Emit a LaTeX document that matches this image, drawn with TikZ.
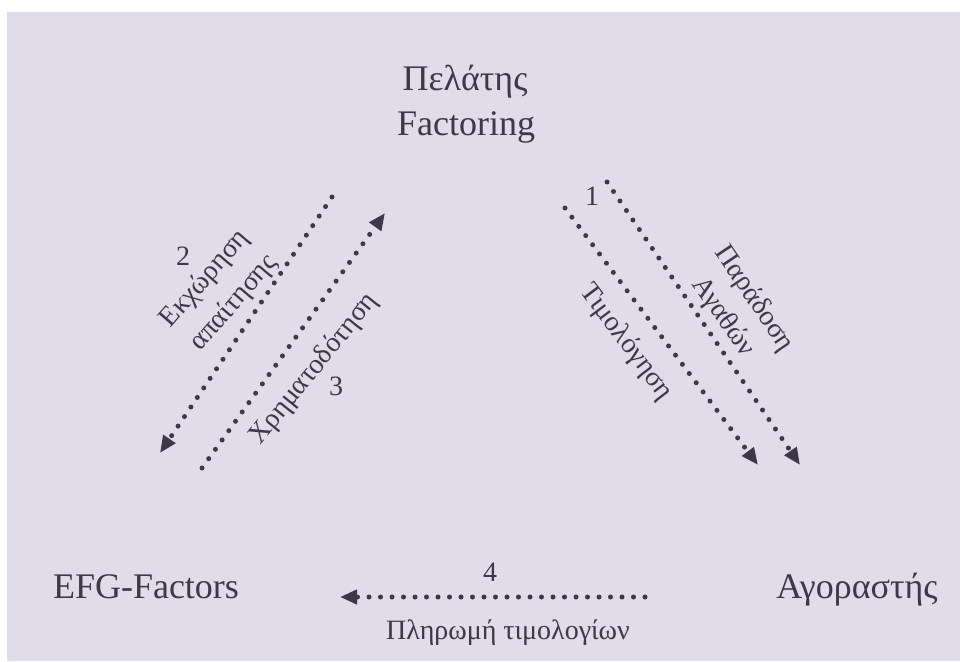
\documentclass[tikz,border=0pt]{standalone}
\usepackage{fontspec}
\setmainfont{Liberation Serif}
\usetikzlibrary{arrows.meta}
\definecolor{bgc}{RGB}{224,220,233}
\definecolor{inkc}{RGB}{62,57,72}
\tikzset{
  bigtext/.style={font=\fontsize{36}{40}\selectfont, text=inkc, inner sep=0pt, anchor=base},
  smalltext/.style={font=\fontsize{28}{32}\selectfont, text=inkc, inner sep=0pt},
  dotarrow/.style={draw=inkc, line width=5pt, line cap=round, dash pattern=on 0pt off 11.5pt,
    -{Triangle[length=17pt,width=14pt]}}
}
\begin{document}
\begin{tikzpicture}[x=1pt,y=-1pt]
\useasboundingbox (0,0) rectangle (960,661);
\fill[white] (0,0) rectangle (960,661);
\fill[bgc] (7,12) rectangle (960,661);
% main nodes
\node[bigtext] (client1) at (465,90) {Πελάτης};
\node[bigtext] (client2) at (466,135) {Factoring};
\node[bigtext] (efg) at (146,598) {EFG-Factors};
\node[bigtext] (buyer) at (857,598) {Αγοραστής};
% arrow endpoints
\coordinate (a2s) at (332,197);
\coordinate (a2e) at (160,453);
\coordinate (a3s) at (202,468);
\coordinate (a3e) at (385,213);
\coordinate (a1s) at (565,208);
\coordinate (a1e) at (758,465);
\coordinate (a0s) at (607,182);
\coordinate (a0e) at (800,465);
\coordinate (a4s) at (645,597);
\coordinate (a4e) at (340,597);
\draw[dotarrow] (a2s) -- (a2e);
\draw[dotarrow] (a3s) -- (a3e);
\draw[dotarrow] (a1s) -- (a1e);
\draw[dotarrow] (a0s) -- (a0e);
\draw[dotarrow] (a4s) -- (a4e);
% labels
\node[smalltext] (n2) at (183,256) {2};
\node[smalltext, rotate=49] (l2a) at (205,279) {Εκχώρηση};
\node[smalltext, rotate=49] (l2b) at (234,303) {απαίτησης};
\node[smalltext, rotate=51] (l3) at (314,369) {Χρηματοδότηση};
\node[smalltext] (n3) at (336,386) {3};
\node[smalltext] (n1) at (592,196) {1};
\node[smalltext, rotate=-56] (l1a) at (754,299) {Παράδοση};
\node[smalltext, rotate=-55] (l1b) at (723,317) {Αγαθών};
\node[smalltext, rotate=-53] (l1c) at (626,342) {Τιμολόγηση};
\node[smalltext] (n4) at (490,572) {4};
\node[smalltext] (l4) at (508,633) {Πληρωμή τιμολογίων};
\end{tikzpicture}
\end{document}
